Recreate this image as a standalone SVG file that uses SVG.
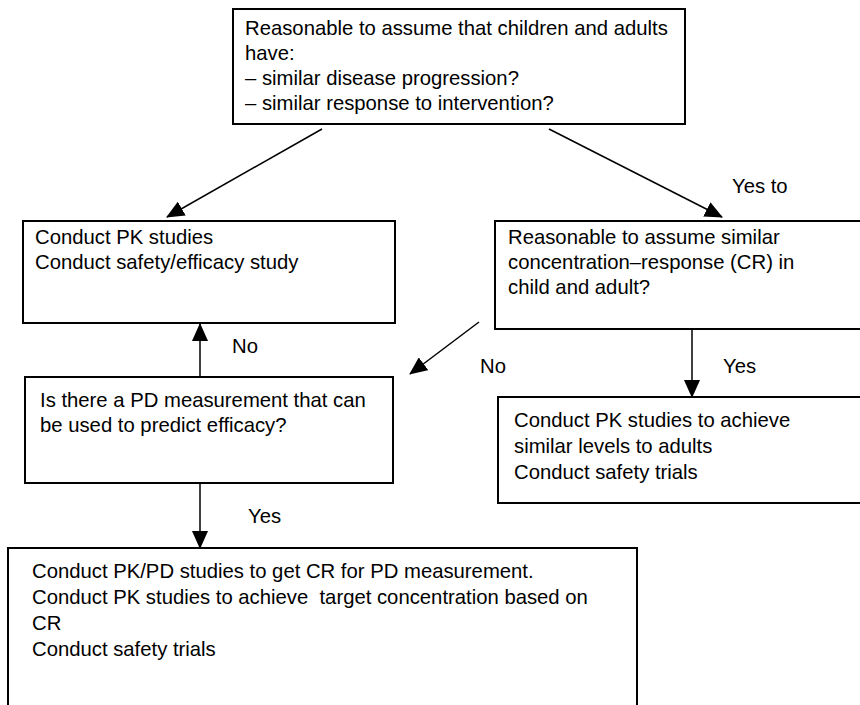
<svg xmlns="http://www.w3.org/2000/svg" width="860" height="705" viewBox="0 0 860 705">
<style>
.box{fill:#fff;stroke:#000;stroke-width:2}
.t{font-family:"Liberation Sans",Arial,sans-serif;font-size:20.3px;fill:#000;white-space:pre}
.c{stroke:#000;stroke-width:1.5;fill:none;marker-end:url(#ah)}
</style>
<defs>
<marker id="ah" markerUnits="userSpaceOnUse" markerWidth="18" markerHeight="16" viewBox="0 0 18 16" refX="17" refY="8" orient="auto">
<path d="M0,0 L18,8 L0,16 Z" fill="#000"/>
</marker>
</defs>
<rect width="860" height="705" fill="#fff"/>
<g id="connectors">
<line class="c" x1="322" y1="129" x2="167" y2="217"/>
<line class="c" x1="549" y1="129" x2="722" y2="217"/>
<line class="c" x1="479" y1="322" x2="410" y2="374"/>
<line class="c" x1="200" y1="377" x2="200" y2="324"/>
<line class="c" x1="692" y1="329" x2="692" y2="397"/>
<line class="c" x1="200" y1="483" x2="200" y2="548"/>
<text class="t" x="732" y="193">Yes to</text>
<text class="t" x="232" y="353">No</text>
<text class="t" x="480" y="373">No</text>
<text class="t" x="723" y="373">Yes</text>
<text class="t" x="248" y="523">Yes</text>
</g>
<g id="n_top">
<rect class="box" x="233" y="9" width="452" height="115"/>
<text class="t" x="245" y="35">Reasonable to assume that children and adults</text>
<text class="t" x="245" y="60">have:</text>
<text class="t" x="245" y="85">– similar disease progression?</text>
<text class="t" x="245" y="110">– similar response to intervention?</text>
</g>
<g id="n_pk">
<rect class="box" x="23" y="221" width="372" height="102"/>
<text class="t" x="35" y="244">Conduct PK studies</text>
<text class="t" x="35" y="269">Conduct safety/efficacy study</text>
</g>
<g id="n_cr">
<rect class="box" x="495" y="221" width="370" height="108"/>
<text class="t" x="508" y="244">Reasonable to assume similar</text>
<text class="t" x="508" y="269">concentration–response (CR) in</text>
<text class="t" x="508" y="294">child and adult?</text>
</g>
<g id="n_pd">
<rect class="box" x="25" y="377" width="368" height="106"/>
<text class="t" x="40" y="407">Is there a PD measurement that can</text>
<text class="t" x="40" y="432">be used to predict efficacy?</text>
</g>
<g id="n_pklevels">
<rect class="box" x="498" y="397" width="370" height="106"/>
<text class="t" x="514" y="427">Conduct PK studies to achieve</text>
<text class="t" x="514" y="453">similar levels to adults</text>
<text class="t" x="514" y="479">Conduct safety trials</text>
</g>
<g id="n_pkpd">
<rect class="box" x="8" y="548" width="629" height="170"/>
<text class="t" x="32" y="578">Conduct PK/PD studies to get CR for PD measurement.</text>
<text class="t" x="32" y="604" xml:space="preserve">Conduct PK studies to achieve  target concentration based on</text>
<text class="t" x="32" y="630">CR</text>
<text class="t" x="32" y="656">Conduct safety trials</text>
</g>
</svg>
